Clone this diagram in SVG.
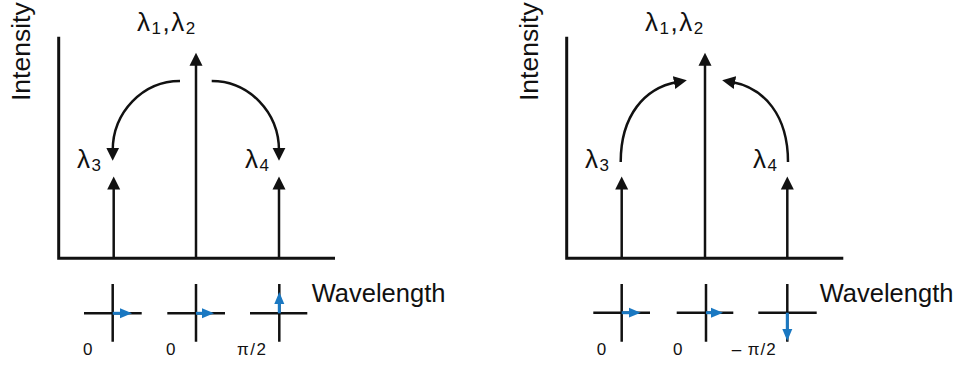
<svg xmlns="http://www.w3.org/2000/svg" width="968" height="367" viewBox="0 0 968 367">
<style>
text{font-family:"Liberation Sans",Arial,sans-serif;fill:#111}
.ax{stroke:#111;stroke-width:3;fill:none}
.st{stroke:#111;stroke-width:2.5;fill:none;marker-end:url(#ah)}
.arc{stroke:#111;stroke-width:2.5;fill:none;marker-end:url(#ah)}
.cr{stroke:#111;stroke-width:2.5;fill:none}
.bl{stroke:#1a78c2;stroke-width:3;fill:none;marker-end:url(#bh)}
.lam{font-size:26px;letter-spacing:1.5px}
.sub{font-size:17px}
.ax-t{font-size:26.5px}
.wl{font-size:25.5px}
.ph{font-size:17px}
</style>
<defs>
<marker id="ah" markerUnits="userSpaceOnUse" markerWidth="14" markerHeight="14" refX="3" refY="6.5" orient="auto" viewBox="0 0 14 13">
<path d="M0,0 L13,6.5 L0,13 z" fill="#111"/>
</marker>
<marker id="bh" markerUnits="userSpaceOnUse" markerWidth="13" markerHeight="11" refX="3" refY="5" orient="auto" viewBox="0 0 13 10">
<path d="M0,0 L12,5 L0,10 z" fill="#1a78c2"/>
</marker>
</defs>

<g id="left-panel">
<g id="left-axes">
<path class="ax" d="M58.7,36.7 V258.3 H335"/>
<text class="ax-t" transform="translate(29.5,101) rotate(-90)">Intensity</text>
<text class="wl" x="311.7" y="301.7">Wavelength</text>
</g>
<g id="left-l12">
<line class="st" x1="196" y1="258" x2="196" y2="62.7"/>
<text class="lam" x="137" y="31">λ<tspan class="sub" dy="3">1</tspan><tspan dy="-3">,λ</tspan><tspan class="sub" dy="3">2</tspan></text>
</g>
<g id="left-l3">
<line class="st" x1="113.7" y1="258" x2="113.7" y2="186.5"/>
<text class="lam" x="77" y="168">λ<tspan class="sub" dy="3">3</tspan></text>
</g>
<g id="left-l4">
<line class="st" x1="279" y1="258" x2="279" y2="186.5"/>
<text class="lam" x="245" y="168">λ<tspan class="sub" dy="3">4</tspan></text>
</g>
<g id="left-phase">
<path class="cr" d="M84,313.3 H141.7 M112.7,284 V341.7"/>
<line class="bl" x1="112.7" y1="313.3" x2="123" y2="313.3"/>
<path class="cr" d="M167.3,313.3 H225 M196,284 V341.7"/>
<line class="bl" x1="196" y1="313.3" x2="205" y2="313.3"/>
<path class="cr" d="M250,313.3 H307.3 M279.3,284 V341.7"/>
<line class="bl" x1="279.3" y1="313.3" x2="279.3" y2="301"/>
<text class="ph" x="83" y="355">0</text>
<text class="ph" x="166" y="355">0</text>
<text class="ph" x="237" y="355" letter-spacing="1.5">π/2</text>
</g>
</g>

<g id="right-panel">
<g id="right-axes">
<path class="ax" d="M566.7,36.7 V258.3 H843.3"/>
<text class="ax-t" transform="translate(537.5,101) rotate(-90)">Intensity</text>
<text class="wl" x="819.7" y="301.7">Wavelength</text>
</g>
<g id="right-l12">
<line class="st" x1="705" y1="258" x2="705" y2="62.7"/>
<text class="lam" x="645" y="31">λ<tspan class="sub" dy="3">1</tspan><tspan dy="-3">,λ</tspan><tspan class="sub" dy="3">2</tspan></text>
</g>
<g id="right-l3">
<line class="st" x1="621.7" y1="258" x2="621.7" y2="186.5"/>
<text class="lam" x="585" y="168">λ<tspan class="sub" dy="3">3</tspan></text>
</g>
<g id="right-l4">
<line class="st" x1="787.3" y1="258" x2="787.3" y2="186.5"/>
<text class="lam" x="753" y="168">λ<tspan class="sub" dy="3">4</tspan></text>
</g>
<g id="right-phase">
<path class="cr" d="M593.3,312.7 H650 M621.7,284 V341.7"/>
<line class="bl" x1="621.7" y1="312.7" x2="631.7" y2="312.7"/>
<path class="cr" d="M676.7,312.7 H733.3 M706,284 V341.7"/>
<line class="bl" x1="706" y1="312.7" x2="714" y2="312.7"/>
<path class="cr" d="M758.3,312.7 H816.7 M787.3,284 V341.7"/>
<line class="bl" x1="787.3" y1="312.7" x2="787.3" y2="332"/>
<text class="ph" x="596.7" y="355">0</text>
<text class="ph" x="673" y="355">0</text>
<text class="ph" x="731.7" y="355" letter-spacing="1">– π/2</text>
</g>
</g>

<g id="connectors">
<path class="arc" d="M180,81 A67.3,69.7 0 0 0 112.7,150.7"/>
<path class="arc" d="M211.7,81 A67.3,69.7 0 0 1 279,150.7"/>
<path class="arc" d="M620.7,162 C620.7,115 645,88 677,82"/>
<path class="arc" d="M788,162 C788,115 764,88 732,82"/>
</g>
</svg>
